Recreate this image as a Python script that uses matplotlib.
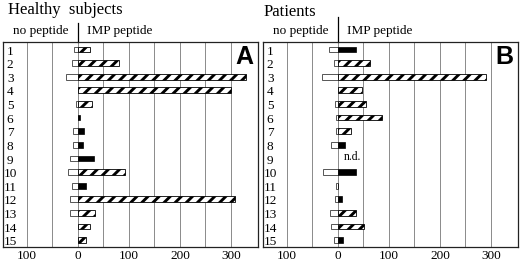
import matplotlib
matplotlib.use("Agg")
import matplotlib.pyplot as plt
import numpy as np

# rows 1..15, values
ROWS = list(range(1, 16))

# panel A - healthy subjects
A_NO_PEP = [-8, -12, -23, 0, -4, 0, -10, -10, -16, -20, -12, -16, -15, 0, 0]
A_IMP = [23, 80, 330, 300, 28, 3, 11, 10, 31, 93, 15, 307, 33, 23, 15]
A_KIND = ["h", "h", "h", "h", "h", "b", "b", "b", "b", "h", "b", "h", "h", "h", "h"]

# panel B - patients (row 9 not determined)
B_NO_PEP = [-18, -8, -32, 0, -6, -4, -3, -13, np.nan, -29, -3, -5, -16, -14, -8]
B_IMP = [36, 62, 291, 47, 55, 86, 25, 13, np.nan, 36, 0, 7, 36, 51, 10]
B_KIND = ["b", "h", "h", "h", "h", "h", "h", "b", "nd", "b", "b", "b", "h", "h", "b"]

TICKS = [-100, 0, 100, 200, 300]
TICK_LABELS = ["100", "0", "100", "200", "300"]
GRID_MINOR = [-50, 50, 150, 250]

plt.rcParams.update({
    "font.family": ["Liberation Serif", "DejaVu Serif"],
    "hatch.linewidth": 2.1,
    "hatch.color": "black",
})

W, H = 520, 261
fig = plt.figure(figsize=(W / 100, H / 100), dpi=100)


def panel(left_px, no_pep, imp, kind, title, letter, title_dx, title_dy, zero_top):
    ax = fig.add_axes([left_px / W, 14 / H, 255 / W, 205 / H])
    y = np.array(ROWS, dtype=float)
    no_pep = np.array(no_pep, dtype=float)
    imp = np.array(imp, dtype=float)

    ax.barh(y, no_pep, height=0.42, color="white", edgecolor="#555555",
            linewidth=0.7, zorder=3)
    for yi, v, k in zip(y, imp, kind):
        if k == "b":
            ax.barh(yi, v, height=0.42, color="black", edgecolor="black",
                    linewidth=0.5, zorder=3)
        elif k == "h":
            ax.barh(yi, v, height=0.42, facecolor="white", edgecolor="black",
                    hatch="///", linewidth=0.6, zorder=3)
        else:
            ax.text(28, yi - 0.1, "n.d.", ha="center", va="center", fontsize=8.5,
                    zorder=4)

    for r in ROWS:
        ax.text(-133, r + 0.15, str(r), ha="center", va="center", fontsize=9.5)

    ax.set_xlim(-147, 353)
    ax.set_ylim(15.5, 0.45)
    ax.set_yticks([])
    ax.set_xticks(TICKS)
    ax.set_xticklabels(TICK_LABELS, fontsize=9.5)
    ax.set_xticks(GRID_MINOR, minor=True)
    ax.tick_params(axis="x", which="both", length=0, pad=2)
    ax.grid(axis="x", which="both", color="#8a8a8a", linewidth=0.7, zorder=0)
    for s in ax.spines.values():
        s.set_linewidth(0.9)
        s.set_color("#222222")

    # zero line sticking out above the frame, with the two headings
    ax.plot([0, 0], [1, zero_top], color="black", linewidth=0.9,
            transform=ax.get_xaxis_transform(), clip_on=False)
    ax.text(-18, 1.04, "no peptide", ha="right", va="baseline", fontsize=9.5,
            transform=ax.get_xaxis_transform())
    ax.text(18, 1.04, "IMP peptide", ha="left", va="baseline", fontsize=9.5,
            transform=ax.get_xaxis_transform())
    ax.text(title_dx, title_dy, title, ha="left", va="baseline", fontsize=12,
            transform=ax.transAxes)
    ax.text(0.945, 0.927, letter, ha="center", va="center", fontsize=18,
            fontweight="bold", family="Liberation Sans", transform=ax.transAxes)
    return ax


panel(3, A_NO_PEP, A_IMP, A_KIND, "Healthy  subjects", "A", 0.02, 1.137, 1.093)
panel(263, B_NO_PEP, B_IMP, B_KIND, "Patients", "B", 0.002, 1.127, 1.12)

fig.savefig("out.png", dpi=100, facecolor="white")
